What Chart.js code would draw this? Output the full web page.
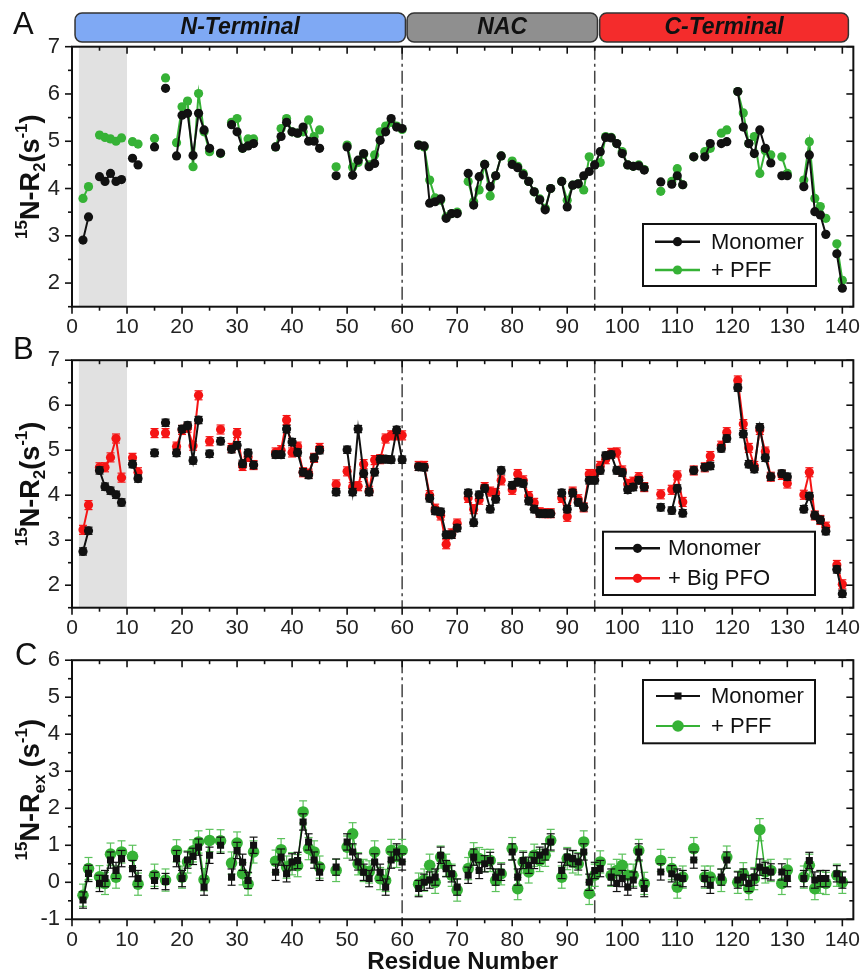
<!DOCTYPE html>
<html>
<head>
<meta charset="utf-8">
<script src="https://cdn.jsdelivr.net/npm/chart.js@4.4.1/dist/chart.umd.min.js"></script>
<style>
  html, body { margin: 0; padding: 0; background: #fff; }
  #wrap { position: relative; width: 868px; height: 975px; }
  canvas { position: absolute; left: 0; }
</style>
</head>
<body>
<div id="wrap">
  <canvas id="chartA" width="868" height="335" style="top:0px"></canvas>
  <canvas id="chartB" width="868" height="300" style="top:335px"></canvas>
  <canvas id="chartC" width="868" height="340" style="top:635px"></canvas>
</div>
<script>
// residue numbers shared by the three panels
const residues = [
  2, 3, 5, 6, 7, 8, 9, 11, 12, 15,
  17, 19, 20, 21, 22, 23, 24, 25, 27, 29,
  30, 31, 32, 33, 37, 38, 39, 40, 41, 42,
  43, 44, 45, 48, 50, 51, 52, 53, 54, 55,
  56, 57, 58, 59, 60, 63, 64, 65, 66, 67,
  68, 69, 70, 72, 73, 74, 75, 76, 77, 78,
  80, 81, 82, 83, 84, 85, 86, 87, 89, 90,
  91, 92, 93, 94, 95, 96, 97, 98, 99, 100,
  101, 102, 103, 104, 107, 109, 110, 111, 113, 115,
  116, 118, 119, 121, 122, 123, 124, 125, 126, 127,
  129, 130, 133, 134, 135, 136, 137, 139, 140
];

// panel A : R2, monomer vs + PFF
const monomerA = [
  2.91, 3.40, 4.25, 4.15, 4.32, 4.15, 4.19, 4.64, 4.50, 4.88,
  6.12, 4.69, 5.55, 5.59, 4.70, 5.59, 5.24, 4.85, 4.75, 5.35,
  5.20, 4.85, 4.90, 4.95, 4.88, 5.10, 5.40, 5.20, 5.17, 5.30,
  5.00, 5.00, 4.85, 4.27, 4.88, 4.28, 4.60, 4.74, 4.46, 4.53,
  5.02, 5.20, 5.48, 5.30, 5.27, 4.92, 4.90, 3.69, 3.72, 3.78,
  3.37, 3.47, 3.47, 4.32, 3.65, 4.25, 4.51, 4.04, 4.27, 4.69,
  4.51, 4.44, 4.29, 4.15, 3.93, 3.76, 3.55, 4.00, 4.15, 3.61,
  4.07, 4.10, 4.27, 4.36, 4.50, 4.78, 5.08, 5.07, 4.95, 4.74,
  4.50, 4.47, 4.48, 4.39, 4.14, 4.09, 4.27, 4.08, 4.67, 4.67,
  4.95, 4.95, 4.99, 6.05, 5.30, 4.95, 4.74, 5.24, 4.85, 4.54,
  4.27, 4.27, 4.04, 4.71, 3.51, 3.44, 3.03, 2.62, 1.89
];
const pffA = [
  3.79, 4.04, 5.13, 5.08, 5.05, 5.00, 5.07, 4.99, 4.94, 5.06,
  6.34, 4.97, 5.73, 5.85, 4.46, 6.01, 5.20, 4.78, 4.74, 5.40,
  5.48, 4.85, 5.05, 5.05, 4.88, 5.27, 5.48, 5.20, 5.17, 5.20,
  5.45, 5.10, 5.24, 4.46, 4.92, 4.45, 4.55, 4.72, 4.50, 4.71,
  5.20, 5.32, 5.40, 5.32, 5.25, 4.92, 4.88, 4.18, 3.80, 3.75,
  3.40, 3.47, 3.50, 4.15, 3.72, 3.97, 4.51, 3.84, 4.27, 4.69,
  4.58, 4.47, 4.32, 4.15, 3.93, 3.78, 3.58, 4.00, 4.15, 3.75,
  4.07, 4.10, 3.97, 4.67, 4.50, 4.55, 5.10, 5.08, 4.95, 4.78,
  4.50, 4.47, 4.50, 4.40, 3.94, 4.15, 4.42, 4.08, 4.67, 4.78,
  4.85, 5.17, 5.24, 6.05, 5.60, 4.95, 5.10, 4.32, 4.80, 4.71,
  4.67, 4.32, 4.18, 4.99, 3.79, 3.62, 3.37, 2.83, 2.06
];

// panel B : R2, monomer vs + Big PFO
const monomerB = [
  2.75, 3.21, 4.55, 4.19, 4.10, 4.01, 3.84, 4.69, 4.37, 4.94,
  5.61, 4.94, 5.47, 5.55, 4.77, 5.67, null, 4.92, 5.20, 5.02,
  5.11, 4.70, 4.94, 4.67, 4.90, 4.90, 5.47, 5.18, 4.95, 4.51,
  4.45, 4.83, 5.00, 4.07, 5.01, 4.07, 5.47, 4.48, 4.07, 4.51,
  4.80, 4.80, 4.79, 5.45, 4.79, 4.63, 4.62, 3.93, 3.65, 3.63,
  3.12, 3.12, 3.27, 4.05, 3.39, 4.01, 4.15, 3.69, 3.91, 4.55,
  4.22, 4.29, 4.26, 3.87, 3.69, 3.59, 3.59, 3.59, 4.05, 3.69,
  4.05, 3.84, 3.73, 4.33, 4.33, 4.55, 4.88, 4.90, 4.55, 4.50,
  4.12, 4.18, 4.33, 4.18, 3.73, 3.66, 4.15, 3.60, 4.55, 4.62,
  4.65, 5.04, 5.26, 6.39, 5.36, 4.69, 4.58, 5.51, 4.83, 4.41,
  4.48, 4.41, 3.69, 3.98, 3.55, 3.45, 3.20, 2.35, 1.81
];
const bigPfoB = [
  3.23, 3.78, 4.62, 4.62, 4.84, 5.26, 4.39, 4.83, 4.51, 5.38,
  5.38, 5.08, 5.45, 5.50, 5.10, 6.22, null, 5.20, 5.46, 5.05,
  5.38, 4.65, 4.85, 4.67, 4.95, 5.00, 5.67, 4.95, 5.08, 4.51,
  4.48, 4.83, 5.05, 4.24, 4.53, 4.18, 4.20, 4.69, 4.10, 4.78,
  4.80, 5.26, 5.33, 5.33, 5.33, 4.65, 4.65, 4.00, 3.70, 3.55,
  2.91, 3.15, 3.37, 3.94, 3.69, 3.90, 4.18, 4.08, 4.05, 4.33,
  4.12, 4.47, 4.33, 3.98, 3.83, 3.62, 3.60, 3.60, 3.94, 3.52,
  4.08, 3.91, 3.73, 4.47, 4.47, 4.65, 4.80, 4.94, 4.95, 4.55,
  4.25, 4.30, 4.40, 4.18, 4.02, 4.12, 4.44, 3.85, 4.55, 4.62,
  4.87, 5.10, 5.40, 6.55, 5.58, 5.05, 4.65, 5.45, 4.97, 4.41,
  4.45, 4.26, 4.01, 4.51, 3.55, 3.45, 3.30, 2.45, 2.02
];

// panel C : Rex, monomer vs + PFF
const monomerRex = [
  -0.48, 0.24, -0.03, 0.10, 0.60, 0.32, 0.64, 0.37, 0.10, 0.05,
  0.02, 0.64, 0.10, 0.60, 0.70, 0.95, -0.13, 0.73, 1.00, 0.14,
  0.86, 0.54, 0.05, 1.00, 0.27, 0.68, 0.23, 0.55, 0.59, 1.63,
  1.09, 0.60, 0.27, 0.41, 1.09, 0.82, 0.55, 0.27, 0.10, 0.55,
  0.27, -0.13, 0.60, 0.82, 0.55, -0.17, 0.00, 0.06, 0.14, 0.73,
  0.37, 0.23, -0.13, 0.19, 0.68, 0.32, 0.50, 0.59, 0.14, 0.27,
  0.82, 0.14, 0.59, 0.46, 0.59, 0.73, 0.82, 1.09, 0.32, 0.68,
  0.64, 0.55, 0.82, 0.00, 0.32, 0.37, null, 0.14, -0.03, 0.10,
  -0.13, 0.06, 0.82, -0.17, 0.28, 0.23, 0.14, 0.10, 0.60, 0.10,
  -0.08, 0.14, 0.60, 0.06, 0.14, -0.03, 0.14, 0.41, 0.32, 0.28,
  0.28, 0.10, 0.10, 0.59, 0.06, 0.10, 0.10, 0.23, 0.06
];
const pffRex = [
  -0.35, 0.37, 0.15, -0.03, 0.76, 0.14, 0.82, 0.70, -0.05, 0.19,
  0.06, 0.85, 0.14, 0.55, 0.85, 1.09, 0.07, 1.13, 1.12, 0.52,
  1.06, 0.23, -0.05, 0.82, 0.57, 0.88, 0.41, 0.50, 0.45, 1.90,
  0.91, 0.82, 0.41, 0.32, 0.95, 1.31, 0.50, 0.32, 0.28, 0.82,
  0.10, 0.05, 0.86, 0.70, 0.86, -0.05, 0.06, 0.46, 0.00, 0.68,
  0.46, 0.19, -0.21, 0.37, 0.77, 0.64, 0.59, 0.59, 0.05, 0.23,
  0.91, -0.17, 0.55, 0.28, 0.73, 0.59, 0.73, 1.13, 0.14, 0.64,
  0.55, 0.50, 1.09, -0.30, 0.19, 0.55, null, 0.19, 0.32, 0.46,
  0.19, 0.19, 0.86, -0.03, 0.59, 0.37, -0.13, 0.14, 0.91, 0.14,
  0.14, 0.05, 0.68, 0.00, 0.23, -0.17, 0.10, 1.42, 0.28, 0.32,
  -0.03, 0.33, 0.14, 0.46, -0.17, 0.00, -0.03, 0.19, 0.00
];

// typical error bar half-heights
const errMonomerA = 0.05, errPffA = 0.06;
const errMonomerB = 0.08, errBigPfoB = 0.10;
const errMonomerRex = 0.22, errPffRex = 0.3;

// axis ticks
const xTicks = [0, 10, 20, 30, 40, 50, 60, 70, 80, 90, 100, 110, 120, 130, 140];
const yTicksR2 = [2, 3, 4, 5, 6, 7];
const yTicksRex = [-1, 0, 1, 2, 3, 4, 5, 6];

// domain banner and markers
const regionNames = ["N-Terminal", "NAC", "C-Terminal"];
const regionRanges = [[0.55, 60.6], [60.9, 95.5], [95.9, 141.1]];
const regionColors = ["#7fa9f4", "#8f8f8f", "#f42c2c"];
const domainEdges = [60, 95];
const shadeRange = [1.25, 10];

const GREEN = "#36b236", RED = "#f51414", BLACK = "#111";
const tickFont = "'Liberation Sans',Arial,sans-serif";
const textFont = "'Liberation Sans',Arial,sans-serif";

function toPoints(vals) {
  const pts = [];
  residues.forEach((r, i) => {
    if (i > 0 && r - residues[i - 1] > 1) pts.push({ x: r - 0.5, y: null });
    pts.push({ x: r, y: vals[i] });
  });
  return pts;
}

function drawRich(ctx, parts, x, y, size, rotate) {
  ctx.save();
  ctx.translate(x, y);
  if (rotate) ctx.rotate(-Math.PI / 2);
  const fontOf = p => "bold " + (p.sup || p.sub ? Math.round(size * 0.62) : size) + "px " + textFont;
  let w = 0;
  parts.forEach(p => { ctx.font = fontOf(p); w += ctx.measureText(p.t).width; });
  let cx = -w / 2;
  ctx.fillStyle = "#111";
  ctx.textBaseline = "alphabetic";
  ctx.textAlign = "left";
  parts.forEach(p => {
    ctx.font = fontOf(p);
    const dy = p.sup ? -size * 0.42 : p.sub ? size * 0.22 : 0;
    ctx.fillText(p.t, cx, size * 0.36 + dy);
    cx += ctx.measureText(p.t).width;
  });
  ctx.restore();
}

function line(ctx, x1, y1, x2, y2) {
  ctx.beginPath(); ctx.moveTo(x1, y1); ctx.lineTo(x2, y2); ctx.stroke();
}

const deco = {
  id: "deco",
  beforeDatasetsDraw(chart, args, o) {
    const { ctx, chartArea: a, scales: { x } } = chart;
    ctx.save();
    if (o.shade) {
      const x1 = x.getPixelForValue(shadeRange[0]), x2 = x.getPixelForValue(shadeRange[1]);
      ctx.fillStyle = "#e1e1e1";
      ctx.fillRect(x1, a.top, x2 - x1, a.bottom - a.top);
    }
    ctx.strokeStyle = "#444";
    ctx.lineWidth = 1.5;
    ctx.setLineDash([13, 4, 3, 4]);
    domainEdges.forEach(v => {
      const px = x.getPixelForValue(v);
      line(ctx, px, a.top, px, a.bottom);
    });
    ctx.restore();
  },
  beforeDatasetDraw(chart, args) {
    const ds = chart.data.datasets[args.index];
    const { ctx, scales: { y } } = chart;
    ctx.save();
    ctx.strokeStyle = ds.errColor || ds.borderColor;
    ctx.lineWidth = 1.2;
    ds.data.forEach((p, i) => {
      if (p.y == null) return;
      const el = args.meta.data[i];
      const t = y.getPixelForValue(p.y + ds.err), b = y.getPixelForValue(p.y - ds.err);
      line(ctx, el.x, t, el.x, b);
      line(ctx, el.x - ds.cap, t, el.x + ds.cap, t);
      line(ctx, el.x - ds.cap, b, el.x + ds.cap, b);
    });
    ctx.restore();
  },
  afterDraw(chart, args, o) {
    const { ctx, chartArea: a, scales: { x, y } } = chart;
    ctx.save();
    // frame
    ctx.strokeStyle = "#111";
    ctx.lineWidth = 2;
    ctx.strokeRect(a.left, a.top, a.right - a.left, a.bottom - a.top);
    // ticks
    ctx.lineWidth = 1.6;
    for (let v = 0; v <= 140; v += 5) {
      const px = x.getPixelForValue(v), len = v % 10 === 0 ? 7 : 4;
      line(ctx, px, a.bottom, px, a.bottom + len);
      line(ctx, px, a.top, px, a.top + len);
    }
    for (let v = o.yMin; v <= o.yMax + 1e-6; v += 0.5) {
      const py = y.getPixelForValue(v), len = Math.abs(v % 1) < 1e-6 ? 7 : 4;
      line(ctx, a.left - len, py, a.left, py);
      line(ctx, a.right - len, py, a.right, py);
    }
    // banner
    if (o.banner) {
      regionNames.forEach((name, i) => {
        const x1 = x.getPixelForValue(regionRanges[i][0]), x2 = x.getPixelForValue(regionRanges[i][1]);
        ctx.beginPath();
        ctx.roundRect(x1, 13, x2 - x1, 29, 7);
        ctx.fillStyle = regionColors[i];
        ctx.fill();
        ctx.lineWidth = 1.5;
        ctx.strokeStyle = "#333";
        ctx.stroke();
        ctx.fillStyle = "#111";
        ctx.font = "italic bold 23px " + textFont;
        ctx.textAlign = "center";
        ctx.textBaseline = "middle";
        ctx.fillText(name, (x1 + x2) / 2, 28);
      });
    }
    // panel letter
    ctx.fillStyle = "#111";
    ctx.font = "31px " + textFont;
    ctx.textAlign = "left";
    ctx.textBaseline = "middle";
    ctx.fillText(o.letter, o.letterPos[0], o.letterPos[1]);
    // y title
    drawRich(ctx, o.yTitle, 29, (a.top + a.bottom) / 2, 27, true);
    // x title
    if (o.xTitle) {
      ctx.fillStyle = "#111";
      ctx.font = "bold 24px " + textFont;
      ctx.textAlign = "center";
      ctx.textBaseline = "middle";
      ctx.fillText(o.xTitle, (a.left + a.right) / 2, o.xTitleY);
    }
    // legend
    const L = o.legend;
    ctx.fillStyle = "#fff";
    ctx.fillRect(L.box[0], L.box[1], L.box[2] - L.box[0], L.box[3] - L.box[1]);
    ctx.strokeStyle = "#111";
    ctx.lineWidth = 2;
    ctx.strokeRect(L.box[0], L.box[1], L.box[2] - L.box[0], L.box[3] - L.box[1]);
    chart.data.datasets.forEach((ds, i) => {
      const ry = L.rows[i];
      ctx.strokeStyle = ds.borderColor;
      ctx.lineWidth = ds.borderWidth + 0.5;
      line(ctx, L.line[0], ry, L.line[1], ry);
      const cx = (L.line[0] + L.line[1]) / 2;
      ctx.fillStyle = ds.borderColor;
      ctx.beginPath();
      if (ds.pointStyle === "rect") {
        const s = ds.pointRadius * Math.SQRT1_2;
        ctx.rect(cx - s, ry - s, 2 * s, 2 * s);
      } else {
        ctx.arc(cx, ry, ds.pointRadius, 0, Math.PI * 2);
      }
      ctx.fill();
      ctx.fillStyle = "#111";
      ctx.font = "22px " + textFont;
      ctx.textAlign = "left";
      ctx.textBaseline = "middle";
      ctx.fillText(ds.label, L.text, ry + 1);
    });
    ctx.restore();
  }
};

function series(label, vals, color, err, style, radius, width, cap, errColor) {
  return {
    label: label,
    data: toPoints(vals),
    borderColor: color,
    backgroundColor: color,
    pointBackgroundColor: color,
    pointBorderColor: color,
    pointStyle: style,
    pointRadius: radius,
    pointBorderWidth: 0,
    borderWidth: width,
    tension: 0,
    spanGaps: false,
    fill: false,
    err: err,
    cap: cap,
    errColor: errColor
  };
}

function makeChart(id, datasets, cfg) {
  return new Chart(document.getElementById(id), {
    type: "line",
    data: { datasets: datasets },
    options: {
      responsive: false,
      animation: false,
      events: [],
      layout: { padding: { top: cfg.top, right: 10.3, left: 0, bottom: 0 } },
      scales: {
        x: {
          type: "linear", min: 0, max: 142,
          afterBuildTicks: s => { s.ticks = xTicks.map(v => ({ value: v })); },
          afterFit: s => { s.height = cfg.xh; },
          grid: { display: false, drawTicks: false },
          border: { display: false },
          ticks: { font: { family: tickFont, size: 21 }, color: "#222", padding: 8, maxRotation: 0, autoSkip: false }
        },
        y: {
          min: cfg.yMin, max: cfg.yMax,
          afterBuildTicks: s => { s.ticks = cfg.yTicks.map(v => ({ value: v })); },
          afterFit: s => { s.width = 72; },
          grid: { display: false, drawTicks: false },
          border: { display: false },
          ticks: { font: { family: tickFont, size: 22 }, color: "#222", padding: 12 }
        }
      },
      plugins: {
        legend: { display: false },
        tooltip: { enabled: false },
        deco: cfg.deco
      }
    },
    plugins: [deco]
  });
}

const titleR2 = [{ t: "15", sup: 1 }, { t: "N-R" }, { t: "2", sub: 1 }, { t: "(s" }, { t: "-1", sup: 1 }, { t: ")" }];
const titleRex = [{ t: "15", sup: 1 }, { t: "N-R" }, { t: "ex", sub: 1 }, { t: " (s" }, { t: "-1", sup: 1 }, { t: ")" }];

makeChart("chartA", [
  series("Monomer", monomerA, BLACK, errMonomerA, "circle", 4.6, 2, 3),
  series("+ PFF", pffA, GREEN, errPffA, "circle", 4.6, 2, 3)
], {
  top: 46.7, xh: 28.3, yMin: 1.5, yMax: 7, yTicks: yTicksR2,
  deco: {
    shade: true, banner: true, letter: "A", letterPos: [13, 25], yTitle: titleR2, yMin: 1.5, yMax: 7,
    legend: { box: [643, 224, 816, 286], rows: [241.7, 270], line: [655, 700], text: 711 }
  }
});

makeChart("chartB", [
  series("Monomer", monomerB, BLACK, errMonomerB, "circle", 4.6, 2, 4),
  series("+ Big PFO", bigPfoB, RED, errBigPfoB, "circle", 4.6, 2, 4)
], {
  top: 13.3, xh: 27.3, yMin: 1.5, yMax: 7, yTicks: yTicksR2,
  deco: {
    shade: true, letter: "B", letterPos: [13, 15], yTitle: titleR2, yMin: 1.5, yMax: 7,
    legend: { box: [603, 196.7, 815, 260], rows: [213.3, 243.3], line: [615, 660], text: 668 }
  }
});

makeChart("chartC", [
  series("Monomer", monomerRex, BLACK, errMonomerRex, "rect", 5, 1.5, 4),
  series("+ PFF", pffRex, GREEN, errPffRex, "circle", 5.8, 1.5, 4, "#5cc25c")
], {
  top: 24.3, xh: 55.7, yMin: -1, yMax: 6, yTicks: yTicksRex,
  deco: {
    letter: "C", letterPos: [15, 21.5], yTitle: titleRex, yMin: -1, yMax: 6,
    xTitle: "Residue Number", xTitleY: 327,
    legend: { box: [643, 45, 815, 108.3], rows: [61, 91], line: [656, 700], text: 711 }
  }
});
</script>
</body>
</html>
